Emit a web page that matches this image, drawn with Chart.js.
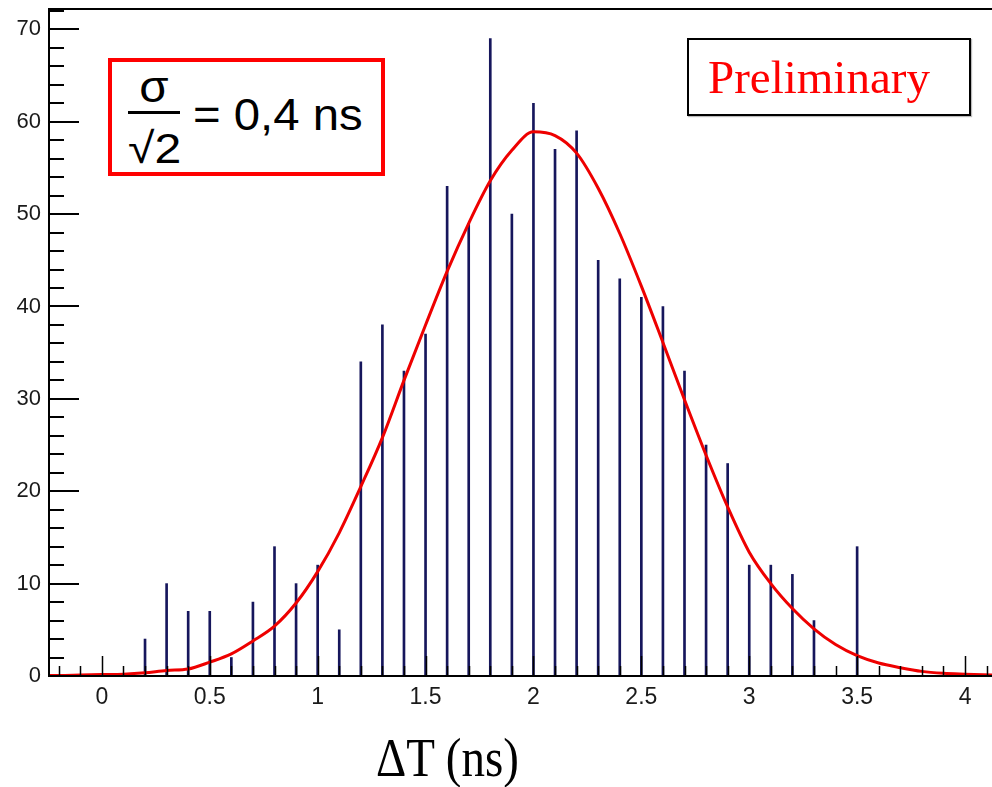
<!DOCTYPE html>
<html>
<head>
<meta charset="utf-8">
<script src="https://cdn.jsdelivr.net/npm/chart.js@4.4.0/dist/chart.umd.min.js"></script>
<style>
  html, body { margin: 0; padding: 0; background: #fff; }
  #wrap { position: relative; width: 992px; height: 787px; overflow: hidden; }
  #c { position: absolute; left: 0; top: 0; }
  .sigbox { position: absolute; left: 108px; top: 58px; width: 277px; height: 118px;
            box-sizing: border-box; border: 4px solid #ff0000; background: #fff; }
  .txt { position: absolute; font-family: "Liberation Sans", Arial, sans-serif; color: #000; white-space: nowrap; line-height: 1; }
  .fracline { position: absolute; background: #000; }
  .prelim { position: absolute; left: 687px; top: 38px; width: 284px; height: 78px;
            box-sizing: border-box; border: 2px solid #000; background: #fff;
            box-shadow: 1px 1px 1px #bbb; }
  .prelim span { position: absolute; left: 19px; top: 14px; font-family: "Liberation Serif", "Times New Roman", serif;
                 font-size: 47px; color: #ff0000; line-height: 1; white-space: nowrap; }
  .xtitle { position: absolute; left: 376px; top: 737px; transform-origin: 0 39px; transform: scaleY(1.17);
            font-family: "Liberation Serif", "Times New Roman", serif; font-size: 47px; color: #000;
            line-height: 1; white-space: nowrap; }
</style>
</head>
<body>
<div id="wrap">
  <canvas id="c" width="992" height="787"></canvas>
  <div class="sigbox"></div>
  <div class="txt" style="left:128px; top:65px; width:52px; text-align:center; font-size:44px; transform:scaleX(1.08);">σ</div>
  <div class="fracline" style="left:128px; top:111px; width:52px; height:3px;"></div>
  <div class="txt" style="left:128px; top:127px; font-size:43px; transform-origin:0 0; transform:scaleX(1.12);">√2</div>
  <div class="txt" style="left:193px; top:93px; font-size:44px; transform-origin:0 0; transform:scaleX(1.075);">= 0,4 ns</div>
  <div class="prelim"><span>Preliminary</span></div>
  <div class="xtitle">ΔT (ns)</div>
</div>
<script>
// Histogram bin centres (ns) and counts
const binCenters = [-0.2,-0.1,0.0,0.1,0.2,0.3,0.4,0.5,0.6,0.7,0.8,0.9,1.0,1.1,1.2,1.3,1.4,1.5,1.6,1.7,1.8,1.9,
                    2.0,2.1,2.2,2.3,2.4,2.5,2.6,2.7,2.8,2.9,3.0,3.1,3.2,3.3,3.4,3.5,3.6,3.7,3.8,3.9,4.0,4.1];
const binCounts  = [0,0,0,0,4,10,7,7,2,8,14,10,12,5,34,38,33,37,53,49,69,50,
                    62,57,59,45,43,41,40,33,25,23,12,12,11,6,0,14,0,0,0,0,0,0];

// Gaussian fit curve
const fitX = [-0.245,-0.2,-0.1,0.0,0.1,0.2,0.3,0.4,0.5,0.6,0.7,0.8,0.9,1.0,1.1,1.2,1.3,1.4,1.5,1.6,1.7,1.8,1.9,
              2.0,2.1,2.2,2.3,2.4,2.5,2.6,2.7,2.8,2.9,3.0,3.1,3.2,3.3,3.4,3.5,3.6,3.7,3.8,3.9,4.0,4.125];
const fitY = [0.05,0.05,0.1,0.15,0.2,0.35,0.6,0.75,1.5,2.4,3.8,5.4,7.9,11.3,15.5,20.5,25.8,32.0,38.0,43.8,49.0,53.6,56.9,
              58.9,58.5,56.6,52.8,47.9,42.2,36.1,29.9,23.9,18.3,13.4,10.0,7.3,5.1,3.4,2.2,1.4,0.9,0.5,0.3,0.2,0.1];

// Axis tick labels
const xTickValues = [0,0.5,1,1.5,2,2.5,3,3.5,4];
const yTickValues = [0,10,20,30,40,50,60,70];

const X_MIN = -0.245, X_MAX = 4.125, Y_MIN = 0, Y_MAX = 72.2;

const frameTicks = {
  id: 'frameTicks',
  afterDatasetsDraw(chart) {
    const {ctx, chartArea: a, scales: {x, y}} = chart;
    ctx.save();
    ctx.strokeStyle = '#000';
    ctx.lineWidth = 2;
    ctx.beginPath();
    ctx.moveTo(a.left, a.top); ctx.lineTo(a.left, a.bottom);
    ctx.moveTo(a.left - 1, a.bottom); ctx.lineTo(a.right, a.bottom);
    ctx.moveTo(a.left - 1, a.top); ctx.lineTo(a.right, a.top);
    ctx.stroke();
    // y ticks (inward)
    ctx.beginPath();
    for (let v = 0; v <= 72; v += 2) {
      const py = Math.round(y.getPixelForValue(v));
      const len = (v % 10 === 0) ? 30 : 15;
      ctx.moveTo(a.left, py); ctx.lineTo(a.left + len, py);
    }
    ctx.stroke();
    // x ticks (upward)
    ctx.lineWidth = 1.5;
    ctx.beginPath();
    for (let i = -2; i <= 41; i++) {
      const px = Math.round(x.getPixelForValue(i / 10)) + 0.5;
      const len = (i % 5 === 0) ? 20 : 10;
      ctx.moveTo(px, a.bottom); ctx.lineTo(px, a.bottom - len);
    }
    ctx.stroke();
    ctx.restore();
  }
};

const zeroPad = (s) => { s.paddingTop = 0; s.paddingBottom = 0; s.paddingLeft = 0; s.paddingRight = 0; };

new Chart(document.getElementById('c'), {
  type: 'bar',
  data: {
    datasets: [
      {
        type: 'line',
        label: 'fit',
        data: fitX.map((v, i) => ({x: v, y: fitY[i]})),
        borderColor: '#ee0000',
        borderWidth: 3,
        pointRadius: 0,
        cubicInterpolationMode: 'monotone',
        fill: false,
        order: 0
      },
      {
        type: 'bar',
        label: 'ΔT',
        data: binCenters.map((v, i) => ({x: v, y: binCounts[i]})),
        backgroundColor: '#16165c',
        borderWidth: 0,
        barThickness: 2,
        order: 1
      }
    ]
  },
  options: {
    responsive: false,
    animation: false,
    events: [],
    layout: { padding: { left: 0, right: 0, top: 9, bottom: 0 } },
    plugins: { legend: { display: false }, tooltip: { enabled: false }, title: { display: false } },
    scales: {
      x: {
        type: 'linear',
        min: X_MIN, max: X_MAX,
        offset: false,
        grid: { display: false, drawTicks: false },
        border: { display: false },
        afterBuildTicks: (s) => { s.ticks = xTickValues.map(v => ({value: v})); },
        afterFit: (s) => { s.height = 111; zeroPad(s); },
        ticks: {
          autoSkip: false, maxRotation: 0, padding: 8,
          color: '#1a1a1a',
          font: { family: '"Liberation Sans", Arial, sans-serif', size: 23 },
          callback: (v) => String(v)
        }
      },
      y: {
        type: 'linear',
        min: Y_MIN, max: Y_MAX,
        grid: { display: false, drawTicks: false },
        border: { display: false },
        afterBuildTicks: (s) => { s.ticks = yTickValues.map(v => ({value: v})); },
        afterFit: (s) => { s.width = 49; zeroPad(s); },
        ticks: {
          autoSkip: false, padding: 8,
          color: '#1a1a1a',
          font: { family: '"Liberation Sans", Arial, sans-serif', size: 22 },
          callback: (v) => String(v)
        }
      }
    }
  },
  plugins: [frameTicks]
});
</script>
</body>
</html>
